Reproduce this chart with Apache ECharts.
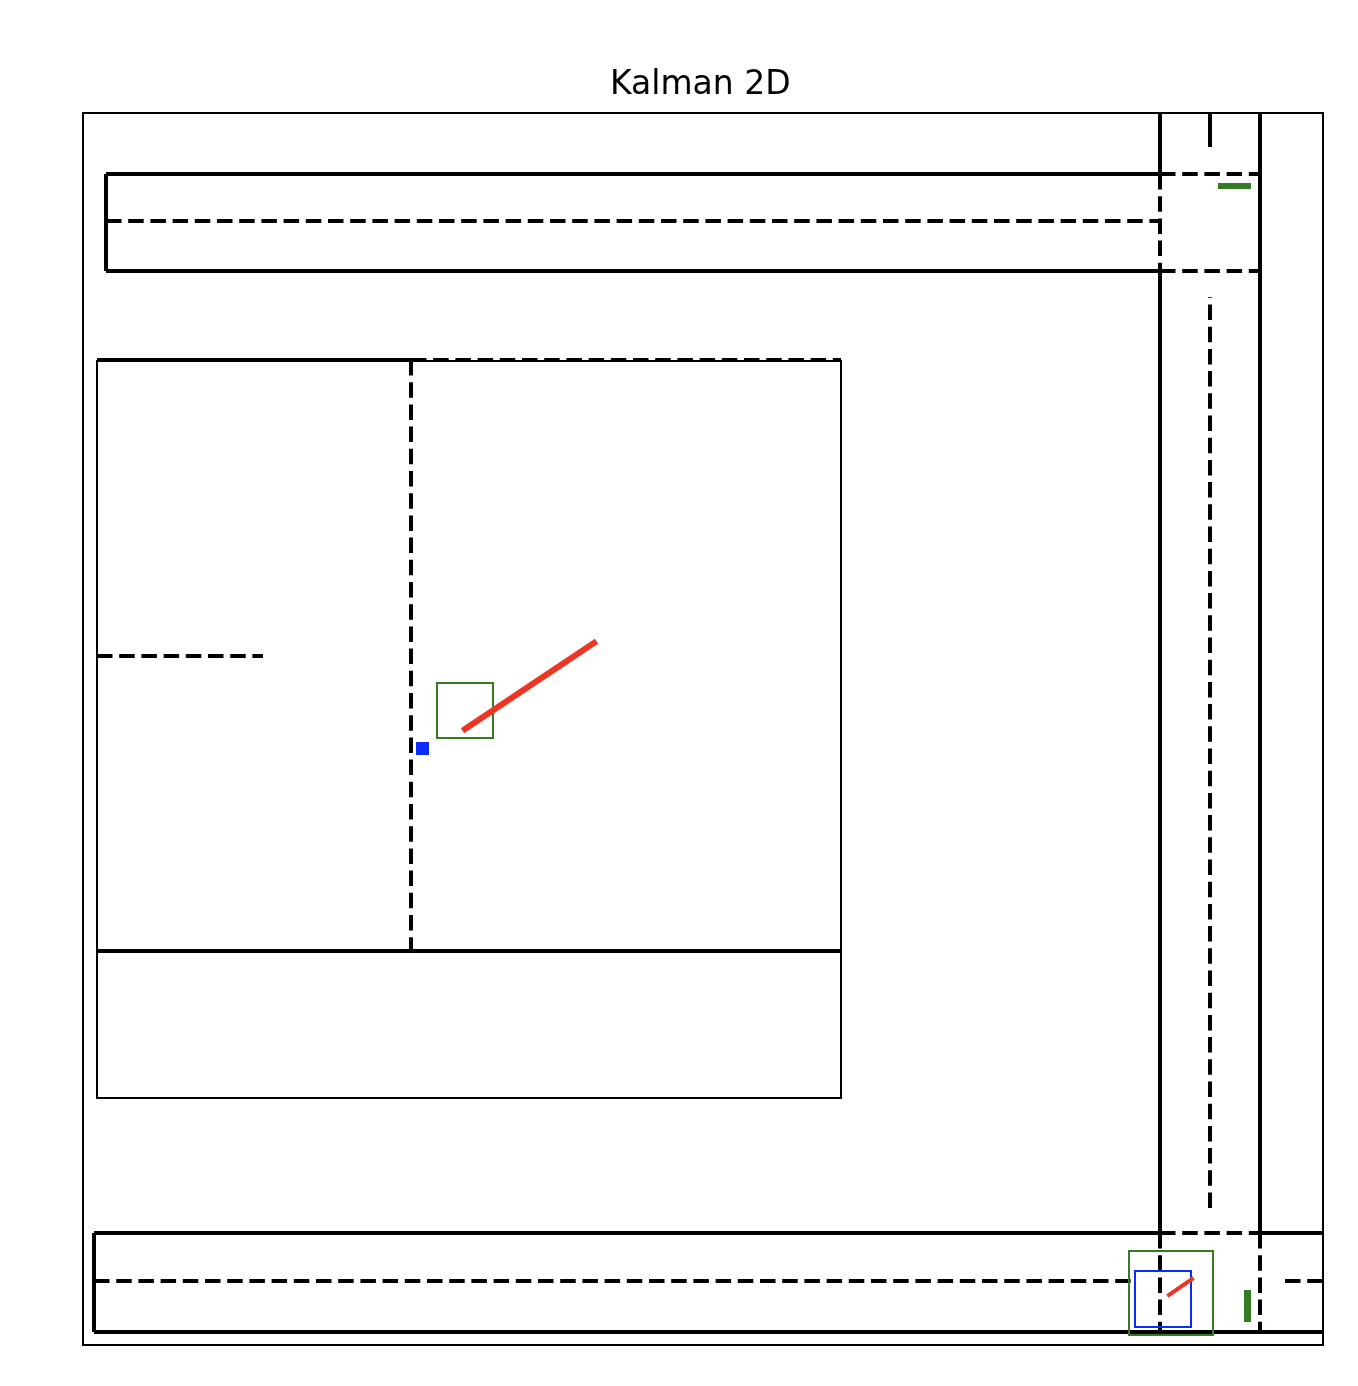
<!DOCTYPE html>
<html>
<head>
<meta charset="utf-8">
<script src="https://cdn.jsdelivr.net/npm/echarts@6/dist/echarts.min.js"></script>
<style>html,body{margin:0;padding:0;background:#fff}#c{width:1358px;height:1386px}</style>
</head>
<body>
<div id="c"></div>
<script>
// ---- data (plot units; x to the right, y upward) ----
const xRange = [0, 1240];
const yRange = [0, 1232];
const titleText = 'Kalman 2D';

// road edges, solid thick segments [x1, y1, x2, y2]
const solidEdges = [
  [23, 1171, 1077, 1171], [23, 1074, 1077, 1074], [23, 1171, 23, 1074],
  [1077, 1232, 1077, 1171], [1077, 1074, 1077, 112], [1177, 1232, 1177, 112],
  [11, 112, 1077, 112], [1177, 112, 1240, 112], [11, 13, 1240, 13], [11, 112, 11, 13],
  [14, 985, 328, 985], [14, 394, 758, 394],
  [1127, 1232, 1127, 1198]
];
// dashed thick segments [x1, y1, x2, y2]
const dashedEdges = [
  [23, 1124, 1077, 1124],
  [1077, 1171, 1177, 1171], [1077, 1074, 1177, 1074], [1077, 1171, 1077, 1074],
  [1127, 137, 1127, 1048],
  [1077, 112, 1177, 112], [1077, 112, 1077, 13], [1177, 112, 1177, 13],
  [11, 64, 1052, 64], [1202, 64, 1240, 64],
  [328, 985, 758, 985], [328, 985, 328, 394], [14, 689, 180, 689]
];
// thin outline boxes [x1, y1, x2, y2]
const thinBoxes = [[14, 247, 758, 984]];
// trajectories [[x, y], [x, y]]
const redTracks = [
  [[382, 616], [511, 702]],
  [[1086, 50], [1109, 66]]
];
// green outline boxes
const greenBoxes = [[354, 607, 410, 662], [1046, 10, 1130, 94]];
// blue outline boxes
const blueBoxes = [[1052, 18, 1108, 74]];
// green filled bars
const greenBars = [[1135, 1156, 1168, 1162], [1161, 23, 1168, 55]];
// blue filled markers
const blueMarks = [[333, 590, 346, 603]];

// ---- styles ----
const DASH = [15.5, 6.7];
const GREEN = '#367b24';
const BLUE = '#0a2dff';
const RED = '#ee3524';

function lineItems(list, dashed) {
  return list.map(s => ({
    coords: [[s[0], s[1]], [s[2], s[3]]],
    lineStyle: { color: '#000', width: 4, type: dashed ? DASH : 'solid', cap: 'butt', opacity: 1 }
  }));
}

function rectSeries(list, filled, color, width) {
  return {
    type: 'custom',
    coordinateSystem: 'cartesian2d',
    silent: true,
    clip: false,
    data: list,
    encode: { x: [0, 2], y: [1, 3] },
    renderItem: function (params, api) {
      const p1 = api.coord([api.value(0), api.value(1)]);
      const p2 = api.coord([api.value(2), api.value(3)]);
      const x = Math.min(p1[0], p2[0]), y = Math.min(p1[1], p2[1]);
      const w = Math.abs(p2[0] - p1[0]), h = Math.abs(p2[1] - p1[1]);
      return {
        type: 'rect',
        shape: { x: x, y: y, width: w, height: h },
        style: filled ? { fill: color, stroke: null } : { fill: null, stroke: color, lineWidth: width }
      };
    }
  };
}

const chart = echarts.init(document.getElementById('c'), null, { renderer: 'canvas' });
chart.setOption({
  animation: false,
  backgroundColor: '#fff',
  title: {
    text: titleText,
    left: 605, top: 64,
    textStyle: { fontFamily: 'DejaVu Sans', fontSize: 33, fontWeight: 'normal', color: '#000' }
  },
  grid: { left: 83, top: 113, width: 1240, height: 1232, show: true, borderColor: '#000', borderWidth: 2, backgroundColor: '#fff' },
  xAxis: { type: 'value', min: xRange[0], max: xRange[1], show: false, splitLine: { show: false } },
  yAxis: { type: 'value', min: yRange[0], max: yRange[1], show: false, splitLine: { show: false } },
  series: [
    rectSeries(thinBoxes, false, '#000', 2),
    {
      type: 'lines', coordinateSystem: 'cartesian2d', silent: true,
      data: lineItems(solidEdges, false).concat(lineItems(dashedEdges, true))
    },
    rectSeries(greenBoxes, false, GREEN, 2),
    rectSeries(blueBoxes, false, BLUE, 2),
    rectSeries(greenBars, true, GREEN),
    rectSeries(blueMarks, true, BLUE),
    {
      type: 'lines', coordinateSystem: 'cartesian2d', silent: true,
      data: redTracks.map((t, i) => ({
        coords: t,
        lineStyle: { color: RED, width: i === 0 ? 6 : 4, type: 'solid', cap: 'square', opacity: 1 }
      }))
    }
  ]
});
</script>
</body>
</html>
